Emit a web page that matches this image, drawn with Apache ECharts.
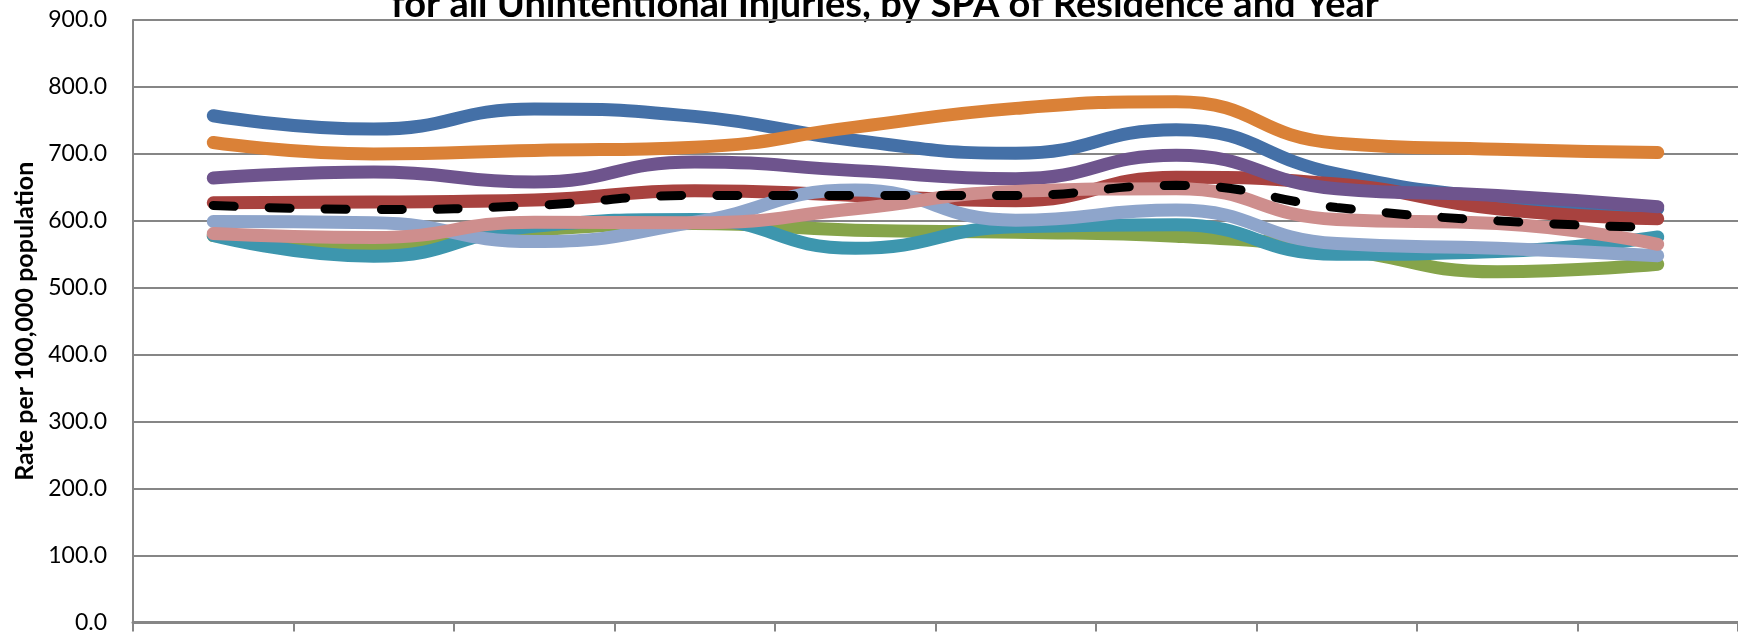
<!DOCTYPE html>
<html>
<head>
    <meta charset="utf-8">
    <title>Unintentional Injuries by SPA</title>
    <script src="https://cdn.jsdelivr.net/npm/echarts@6/dist/echarts.min.js"></script>
    <style>
        html, body { margin: 0; padding: 0; background: #fff; }
    </style>
</head>
<body>
<div id="chart-container" style="width: 1738px; height: 634px;"></div>
<script>
    // years on the x axis (labels fall below the visible area)
    var years = ['2001', '2002', '2003', '2004', '2005', '2006', '2007', '2008', '2009', '2010'];

    // rates per 100,000
    var spa1 = [757, 737, 767, 756, 720, 701, 736, 670, 634, 618];
    var spa2 = [627, 628, 631, 645, 638, 630, 665, 655, 618, 603];
    var spa3 = [578, 565, 586, 596, 586, 583, 577, 558, 524, 535];
    var spa4 = [664, 673, 658, 688, 675, 663, 698, 648, 638, 621];
    var spa5 = [578, 547, 592, 602, 559, 591, 594, 550, 554, 576];
    var spa6 = [717, 700, 705, 710, 740, 768, 778, 716, 707, 702];
    var spa7 = [599, 597, 569, 598, 646, 601, 616, 566, 559, 548];
    var spa8 = [581, 575, 598, 597, 618, 644, 648, 602, 596, 565];
    var county = [623, 617, 623, 638, 638, 638, 653, 620, 600, 590];

    var yTicks = [0, 100, 200, 300, 400, 500, 600, 700, 800, 900];

    var names = ['SPA 1', 'SPA 2', 'SPA 3', 'SPA 4', 'SPA 5', 'SPA 6', 'SPA 7', 'SPA 8'];
    var values = [spa1, spa2, spa3, spa4, spa5, spa6, spa7, spa8];
    var colors = ['#4470A7', '#A8423F', '#86A44A', '#6E548D', '#3D96AE', '#DA8137', '#8EA5CB', '#CE8E8D'];

    var series = [];
    values.forEach(function (data, i) {
        series.push({
            name: names[i],
            type: 'line',
            smooth: true,
            symbol: 'none',
            lineStyle: { color: colors[i], width: 13, cap: 'round', join: 'round' },
            data: data
        });
    });
    series.push({
        name: 'LA County',
        type: 'line',
        smooth: true,
        symbol: 'none',
        lineStyle: { color: '#000', width: 9, type: [21, 35], cap: 'round' },
        data: county
    });

    var option = {
        animation: false,
        backgroundColor: '#fff',
        textStyle: { fontFamily: 'Lato' },
        // only the lower part of the title shows at the top edge
        graphic: [{
            type: 'text',
            x: 885,
            y: 5,
            style: {
                text: 'for all Unintentional Injuries, by SPA of Residence and Year',
                fontFamily: 'Lato',
                fontWeight: 'bold',
                fontSize: 38,
                fill: '#000',
                align: 'center',
                verticalAlign: 'middle'
            }
        }],
        grid: { left: 133, right: 0, top: 20, bottom: 7 },
        xAxis: {
            type: 'category',
            data: years,
            boundaryGap: true,
            axisLine: { lineStyle: { color: '#868686', width: 3 } },
            axisTick: { show: true, interval: 0, length: 9, lineStyle: { color: '#868686', width: 2 } },
            axisLabel: { show: false }
        },
        yAxis: {
            type: 'value',
            min: yTicks[0],
            max: yTicks[yTicks.length - 1],
            interval: 100,
            name: 'Rate per 100,000 population',
            nameLocation: 'middle',
            nameGap: 96,
            nameTextStyle: { fontFamily: 'Lato', fontWeight: 'bold', fontSize: 25, color: '#000' },
            axisLine: { show: true, lineStyle: { color: '#868686', width: 2 } },
            axisTick: { show: false },
            axisLabel: {
                margin: 26,
                fontFamily: 'Lato',
                fontSize: 23,
                color: '#000',
                formatter: function (v) { return v.toFixed(1); }
            },
            splitLine: { lineStyle: { color: '#868686', width: 2 } }
        },
        series: series
    };

    var chart = echarts.init(document.getElementById('chart-container'));
    chart.setOption(option);
</script>
</body>
</html>
